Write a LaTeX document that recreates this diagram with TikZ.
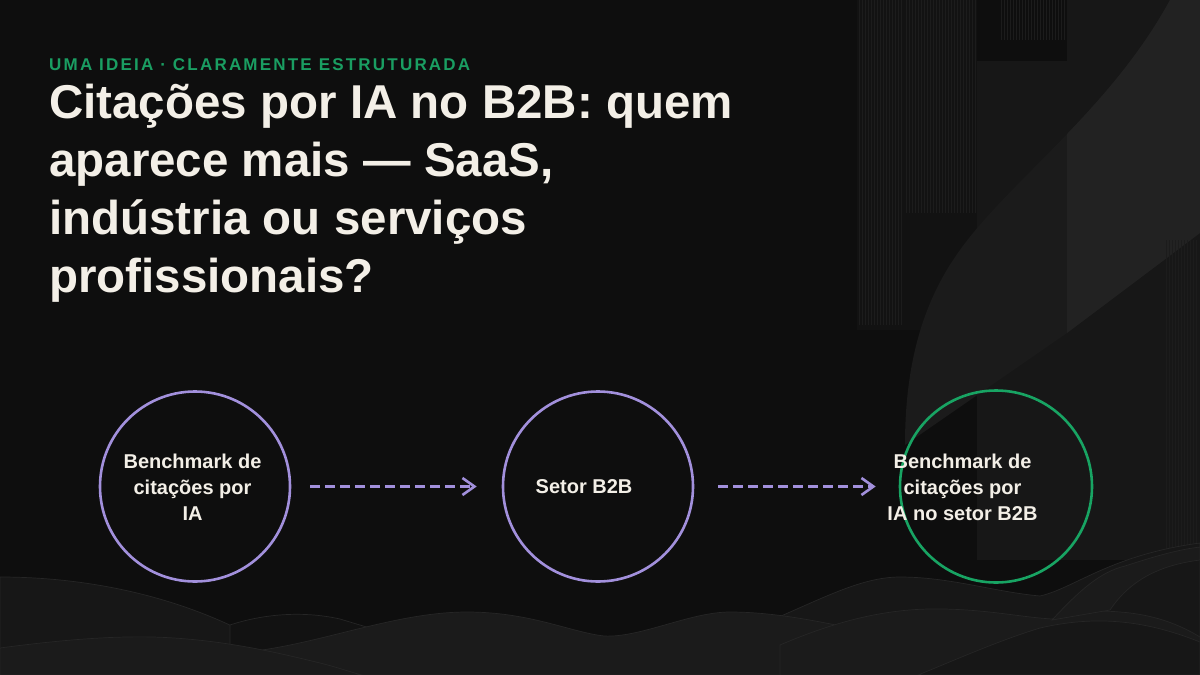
\documentclass[tikz,border=0pt]{standalone}
\usepackage{fontspec}
\setmainfont{Liberation Sans}
\newfontfamily\trackfont[LetterSpace=13]{Liberation Sans Bold}
\usetikzlibrary{arrows.meta}
\definecolor{bg}{HTML}{0E0E0E}
\definecolor{ink}{HTML}{F3EFE7}
\definecolor{lav}{HTML}{A290DC}
\definecolor{grn}{HTML}{18A463}
\definecolor{eyeg}{HTML}{1A9E62}
\definecolor{g1}{HTML}{121212}
\definecolor{g2}{HTML}{171717}
\definecolor{g3}{HTML}{1B1B1B}
\definecolor{g4}{HTML}{222222}
\definecolor{stripe}{HTML}{1C1C1C}
\definecolor{edge}{HTML}{262626}
\begin{document}
\begin{tikzpicture}[x=1pt,y=-1pt,
  ring/.style={circle, draw=lav, line width=2.6pt, minimum size=190pt, inner sep=0pt},
  endring/.style={ring, draw=grn, minimum size=192pt},
  txt/.style={text=ink, font=\bfseries\fontsize{20}{26}\selectfont, align=center, inner sep=0pt},
  flow/.style={draw=lav, line width=2.6pt, dash pattern=on 10pt off 5pt,
    -{Straight Barb[length=12pt,width=17pt,line width=2.6pt]}},
  wave/.style={draw=edge, line width=0.7pt},
  stripes/.style={draw=stripe, line width=0.5pt},
]
\useasboundingbox (0,0) rectangle (1200,675);
\fill[bg] (0,0) rectangle (1200,675);

% ---- right decorative panels ----
\fill[g1] (857,0) rectangle (977,330);
\foreach \x in {859,862,...,903} \draw[stripes] (\x,0) -- (\x,325);
\foreach \x in {906,909,...,975} \draw[stripes] (\x,0) -- (\x,213);
\fill[g2] (977,61) rectangle (1067,560);
\foreach \x in {1001,1004,...,1065} \draw[stripes] (\x,0) -- (\x,40);
\fill[g2] (1067,0) rectangle (1200,560);
% curved ribbon
\fill[g3] (1170,0) .. controls (1110,110) and (1010,180) .. (960,250)
  .. controls (920,305) and (905,370) .. (905,445)
  -- (1067,333) -- (1200,233) -- (1200,0) -- cycle;
\begin{scope}
  \clip (1067,0) rectangle (1200,675);
  \fill[g4] (1170,0) .. controls (1110,110) and (1010,180) .. (960,250)
    .. controls (920,305) and (905,370) .. (905,445)
    -- (1067,333) -- (1200,233) -- (1200,0) -- cycle;
\end{scope}
\foreach \x in {1166,1169,...,1198} \draw[stripes] (\x,240) -- (\x,560);

% ---- bottom waves ----
\fill[g2, wave] (760,625) .. controls (820,600) and (860,577) .. (900,577)
  .. controls (950,577) and (995,592) .. (1040,596)
  .. controls (1075,588) and (1110,555) .. (1200,543) -- (1200,675) -- (760,675) -- cycle;
\fill[g2, wave] (0,577) .. controls (80,577) and (170,593) .. (250,635)
  .. controls (300,660) and (340,670) .. (380,675) -- (0,675) -- cycle;
\fill[g1, wave] (230,625) .. controls (260,615) and (300,610) .. (340,619)
  .. controls (360,625) and (375,630) .. (390,632) -- (390,675) -- (230,675) -- cycle;
\fill[g3, wave] (262,650) .. controls (330,640) and (400,612) .. (467,612)
  .. controls (530,612) and (570,632) .. (604,636)
  .. controls (640,638) and (690,612) .. (730,612)
  .. controls (780,612) and (830,624) .. (870,632) -- (870,675) -- (262,675) -- cycle;
\fill[g3, wave] (780,645) .. controls (850,615) and (900,608) .. (944,609)
  .. controls (990,610) and (1020,617) .. (1052,619)
  .. controls (1080,612) and (1100,610) .. (1120,612)
  .. controls (1160,615) and (1185,628) .. (1200,637) -- (1200,675) -- (780,675) -- cycle;
\fill[g3, wave] (1052,620) .. controls (1080,590) and (1100,572) .. (1125,566)
  .. controls (1150,558) and (1175,550) .. (1200,547) -- (1200,560)
  .. controls (1160,565) and (1130,580) .. (1110,610) -- cycle;
\fill[g3, wave] (0,648) .. controls (60,640) and (110,636) .. (153,637)
  .. controls (220,639) and (275,652) .. (320,663)
  .. controls (340,668) and (350,672) .. (362,675) -- (0,675) -- cycle;
\fill[g2, wave] (918,675) .. controls (955,660) and (1000,640) .. (1040,628)
  .. controls (1100,614) and (1150,622) .. (1200,642) -- (1200,675) -- cycle;

% ---- header ----
\node[anchor=base west, inner sep=0pt, text=eyeg,
  font=\trackfont\fontsize{17}{20}\selectfont] (eyebrow) at (49,70)
  {UMA IDEIA · CLARAMENTE ESTRUTURADA};
\node[anchor=base west, inner sep=0pt, text=ink, align=left,
  font=\bfseries\fontsize{47.5}{58}\selectfont] (title) at (49,292)
  {Citações por IA no B2B: quem\\aparece mais — SaaS,\\indústria ou serviços\\profissionais?};

% ---- diagram ----
\node[ring] (c1) at (195,486.5) {};
\node[ring] (c2) at (598,486.5) {};
\node[endring] (c3) at (996,486.5) {};

\draw[flow, shorten <=19pt, shorten >=25pt] (c1.east) -- (c2.west);
\draw[flow, shorten <=24pt, shorten >=23pt] (c2.east) -- (c3.west);

\node[txt] (t1) at (192.5,487) {Benchmark de\\citações por\\IA};
\node[txt] (t2) at (584,487) {Setor B2B};
\node[txt] (t3) at (962.5,487) {Benchmark de\\citações por\\IA no setor B2B};
\end{tikzpicture}
\end{document}
